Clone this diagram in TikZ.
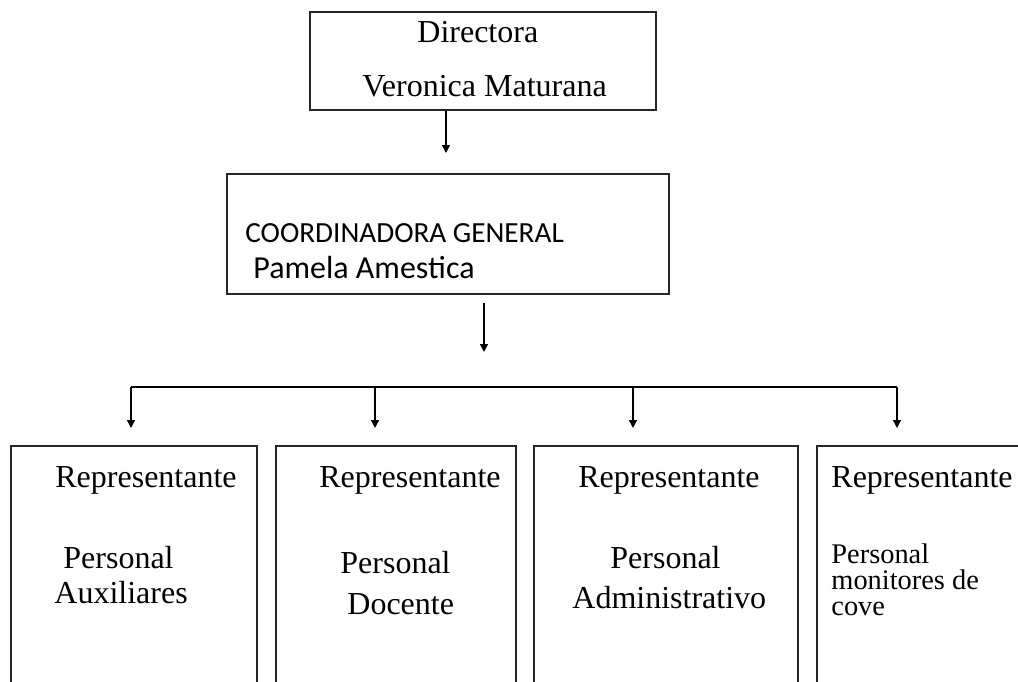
\documentclass[tikz,border=0pt]{standalone}
\usepackage{fontspec}
\setmainfont{Liberation Serif}
\newfontfamily\calibri{Carlito}
\usepackage{tikz}
\usetikzlibrary{arrows.meta}

\begin{document}
\begin{tikzpicture}[x=0.5pt, y=-0.5pt, box/.style={rectangle, draw=black!85, line width=1pt, inner sep=0pt}, txt/.style={anchor=base west, inner sep=0pt, font=\fontsize{16}{18}\selectfont}, small/.style={anchor=base west, inner sep=0pt, font=\fontsize{14.2}{13}\selectfont}, arr/.style={line width=0.75pt, -{Triangle[length=4pt,width=4pt]}}]
  \useasboundingbox (0,0) rectangle (1018,681);
  \clip (0,0) rectangle (1018,681);
  % boxes
  \node[box, minimum width=173pt, minimum height=49pt] (dir) at (483,61) {};
  \node[box, minimum width=221pt, minimum height=60pt] (coord) at (448,234) {};
  \node[box, minimum width=123pt, minimum height=127pt] (aux) at (134,573) {};
  \node[box, minimum width=120pt, minimum height=127pt] (doc) at (396,573) {};
  \node[box, minimum width=132pt, minimum height=127pt] (adm) at (666,573) {};
  \node[box, minimum width=120pt, minimum height=127pt] (mon) at (937,573) {};
  % texts
  \node[txt] (dirA) at (417,42) {Directora};
  \node[txt] (dirB) at (362,96) {Veronica Maturana};
  \node[txt, font=\calibri\fontsize{14.6}{16}\selectfont] (coordA) at (245,242) {COORDINADORA GENERAL};
  \node[txt, font=\calibri\fontsize{16}{18}\selectfont] (coordB) at (253,278) {Pamela Amestica};
  \node[txt] (auxR) at (55,487) {Representante};
  \node[txt] (auxA) at (63,568) {Personal};
  \node[txt] (auxB) at (54,603) {Auxiliares};
  \node[txt] (docR) at (319,487) {Representante};
  \node[txt] (docA) at (340,573) {Personal};
  \node[txt] (docB) at (347,614) {Docente};
  \node[txt] (admR) at (578,487) {Representante};
  \node[txt] (admA) at (610,568) {Personal};
  \node[txt] (admB) at (572,608) {Administrativo};
  \node[txt] (monR) at (831,487) {Representante};
  \node[small] (monA) at (831,563) {Personal};
  \node[small] (monB) at (831,589) {monitores de};
  \node[small] (monC) at (831,615) {cove};
  % connectors
  \coordinate (d1) at (446,153);
  \coordinate (c1) at (484,303);
  \coordinate (c2) at (484,352);
  \coordinate (busL) at (131,387);
  \coordinate (busR) at (897,387);
  \draw[arr] (dir.south -| d1) -- (d1);
  \draw[arr] (c1) -- (c2);
  \draw[line width=0.75pt] (busL) -- (busR);
  \draw[arr] (busL) -- (busL |- 0,428);
  \draw[arr] (375,387) -- (375,428);
  \draw[arr] (633,387) -- (633,428);
  \draw[arr] (busR) -- (busR |- 0,428);
\end{tikzpicture}
\end{document}
